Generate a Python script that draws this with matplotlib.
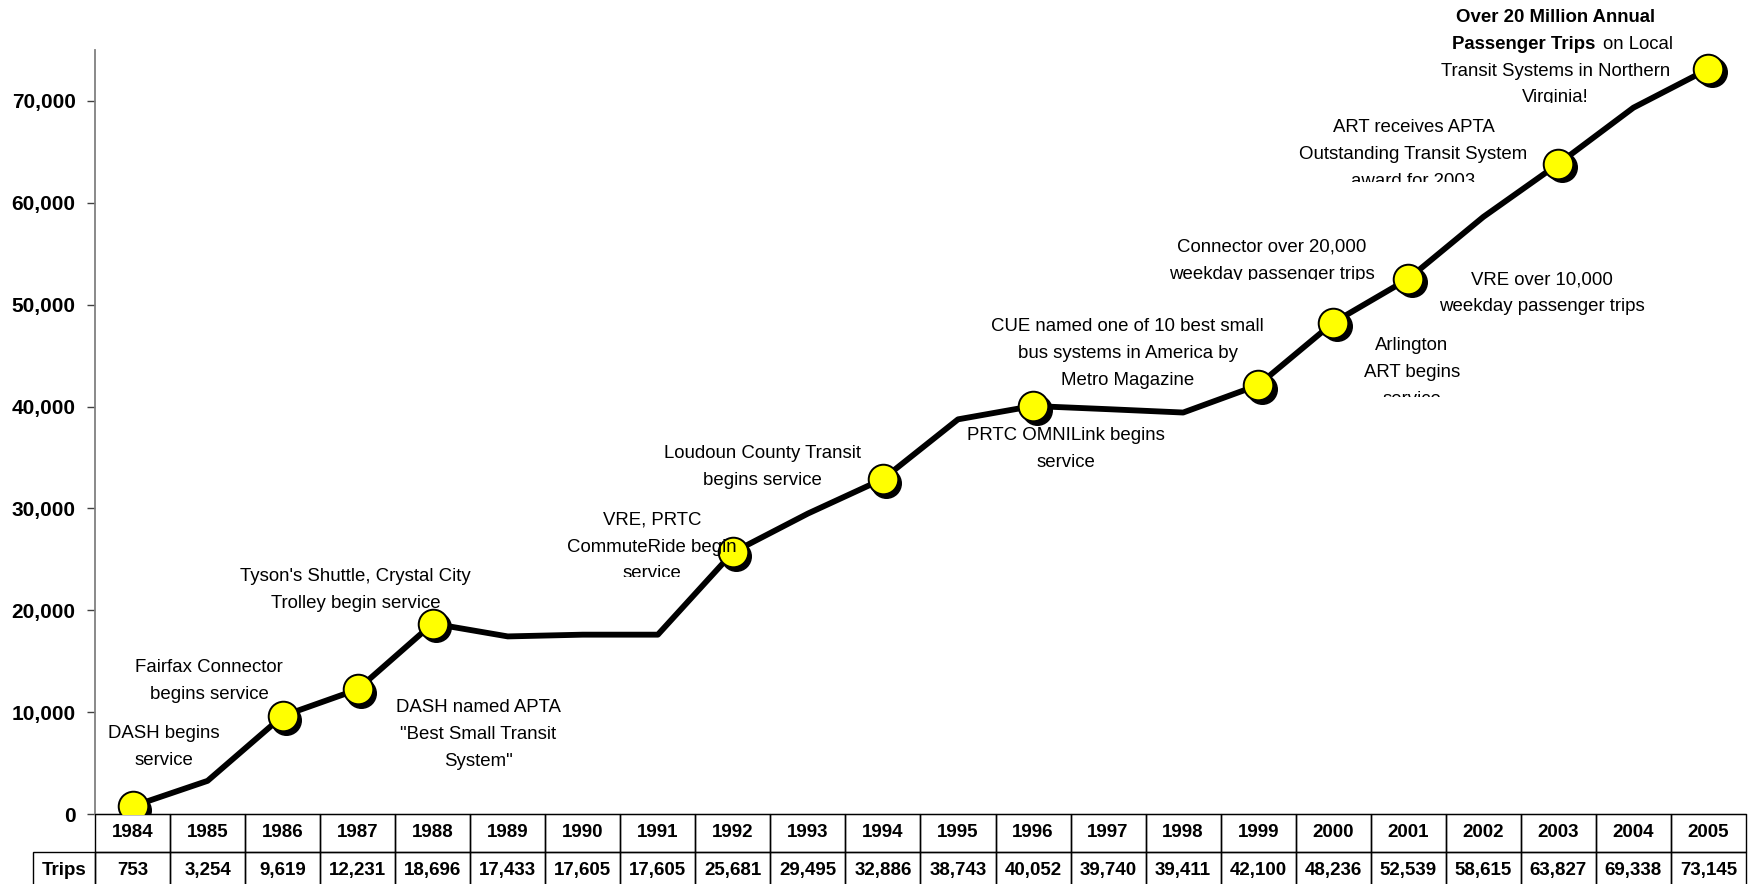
import matplotlib
matplotlib.use("Agg")
import matplotlib.pyplot as plt
import matplotlib.transforms as mtransforms
from matplotlib.ticker import FuncFormatter

plt.rcParams['font.family'] = ['Liberation Sans', 'DejaVu Sans']

# data
years = [1984, 1985, 1986, 1987, 1988, 1989, 1990, 1991, 1992, 1993, 1994,
         1995, 1996, 1997, 1998, 1999, 2000, 2001, 2002, 2003, 2004, 2005]
trips = [753, 3254, 9619, 12231, 18696, 17433, 17605, 17605, 25681, 29495, 32886,
         38743, 40052, 39740, 39411, 42100, 48236, 52539, 58615, 63827, 69338, 73145]
milestone_years = [1984, 1986, 1987, 1988, 1992, 1994, 1996, 1999, 2000, 2001, 2003, 2005]
row_label = "Trips"

# annotation texts: (lines, x index, y centre, clip-below value or None)
notes = [
    (["DASH begins", "service"], 0.42, 6770, None),
    (["Fairfax Connector", "begins service"], 1.02, 13250, None),
    (["Tyson's Shuttle, Crystal City", "Trolley begin service"], 2.97, 22150, None),
    (["DASH named APTA", "\"Best Small Transit", "System\""], 4.61, 7970, None),
    (["VRE, PRTC", "CommuteRide begin", "service"], 6.92, 26360, 23250),
    (["Loudoun County Transit", "begins service"], 8.40, 34240, None),
    (["CUE named one of 10 best small", "bus systems in America by", "Metro Magazine"], 13.26, 45340, None),
    (["PRTC OMNILink begins", "service"], 12.44, 36000, None),
    (["Connector over 20,000", "weekday passenger trips"], 15.18, 54460, 52450),
    (["Arlington", "ART begins", "service"], 17.05, 43470, 40950),
    (["VRE over 10,000", "weekday passenger trips"], 18.78, 51270, None),
    (["ART receives APTA", "Outstanding Transit System", "award for 2003"], 17.07, 64900, 62000),
]

FS = 13.4

fig = plt.figure(figsize=(17.52, 8.84), dpi=100)
ax = fig.add_axes([95 / 1752, 70 / 884, 1651 / 1752, 764 / 884])

x = list(range(len(years)))
ax.plot(x, trips, color='black', lw=4.2, zorder=3)

mx = [years.index(y) for y in milestone_years]
my = [trips[i] for i in mx]
shadow = mtransforms.offset_copy(ax.transData, fig=fig, x=3.5, y=-3.5, units='dots')
ax.plot(mx, my, 'o', ms=21.3, color='black', transform=shadow, zorder=4)
ax.plot(mx, my, 'o', ms=21.3, mfc='#ffff00', mec='black', mew=1.4, zorder=5)

ax.set_xlim(-0.5, len(years) - 0.5)
ax.set_ylim(0, 75000)
ax.set_yticks(range(0, 70001, 10000))
ax.yaxis.set_major_formatter(FuncFormatter(lambda v, p: f"{int(v):,}"))
ax.tick_params(axis='y', length=6, width=1, pad=8, labelsize=15, color='#404040')
for lab in ax.get_yticklabels():
    lab.set_fontweight('bold')
ax.set_xticks([])
ax.spines['top'].set_visible(False)
ax.spines['right'].set_visible(False)
ax.spines['left'].set_color('#808080')
ax.spines['left'].set_linewidth(1.3)
ax.spines['bottom'].set_color('black')

# data table under the plot
col_w = 75.05
lab_w = 61.7
cells = [[""] + [str(y) for y in years],
         [row_label] + [f"{t:,}" for t in trips]]
tbl = ax.table(cellText=cells,
               colWidths=[lab_w] + [col_w] * len(years),
               cellLoc='center',
               bbox=[-lab_w / 1651, -2 * 37.7 / 764, 1 + lab_w / 1651, 2 * 37.7 / 764])
tbl.auto_set_font_size(False)
tbl.set_fontsize(13.5)
for (r, c), cell in tbl.get_celld().items():
    cell.set_text_props(fontweight='bold')
    cell.set_edgecolor('black')
    cell.set_linewidth(1.0)
    cell.set_facecolor('none')
tbl[(0, 0)].visible_edges = ''

# annotations, placed line by line
line_step = 26.8 / 101.67 * 10000
base_shift = 600


def clip_below(t, val):
    t.set_clip_path(None)
    t.set_clip_box(mtransforms.TransformedBbox(
        mtransforms.Bbox([[-5, val], [30, 1e6]]), ax.transData))
    t.set_clip_on(True)


def add_lines(lines, xc, yc, clip=None):
    n = len(lines)
    for i, s in enumerate(lines):
        yb = yc + (n - 1) / 2 * line_step - i * line_step - base_shift
        t = ax.text(xc, yb, s, ha='center', va='baseline', fontsize=FS, zorder=6)
        if clip is not None:
            clip_below(t, clip)


for lines, xc, yc, clip in notes:
    add_lines(lines, xc, yc, clip)

# headline note with mixed weights
top_y = 74410
n = 4
ys = [top_y + (n - 1) / 2 * line_step - i * line_step - base_shift for i in range(n)]
ax.text(18.96, ys[0], "Over 20 Million Annual", ha='center', va='baseline',
        fontsize=FS, fontweight='bold', zorder=6)
ax.text(19.487, ys[1], "Passenger Trips", ha='right', va='baseline',
        fontsize=FS, fontweight='bold', zorder=6)
ax.text(19.59, ys[1], "on Local", ha='left', va='baseline', fontsize=FS, zorder=6)
ax.text(18.96, ys[2], "Transit Systems in Northern", ha='center', va='baseline',
        fontsize=FS, zorder=6)
t = ax.text(18.96, ys[3], "Virginia!", ha='center', va='baseline', fontsize=FS, zorder=6)
clip_below(t, 69750)

plt.savefig("out.png", dpi=100)
plt.close(fig)
